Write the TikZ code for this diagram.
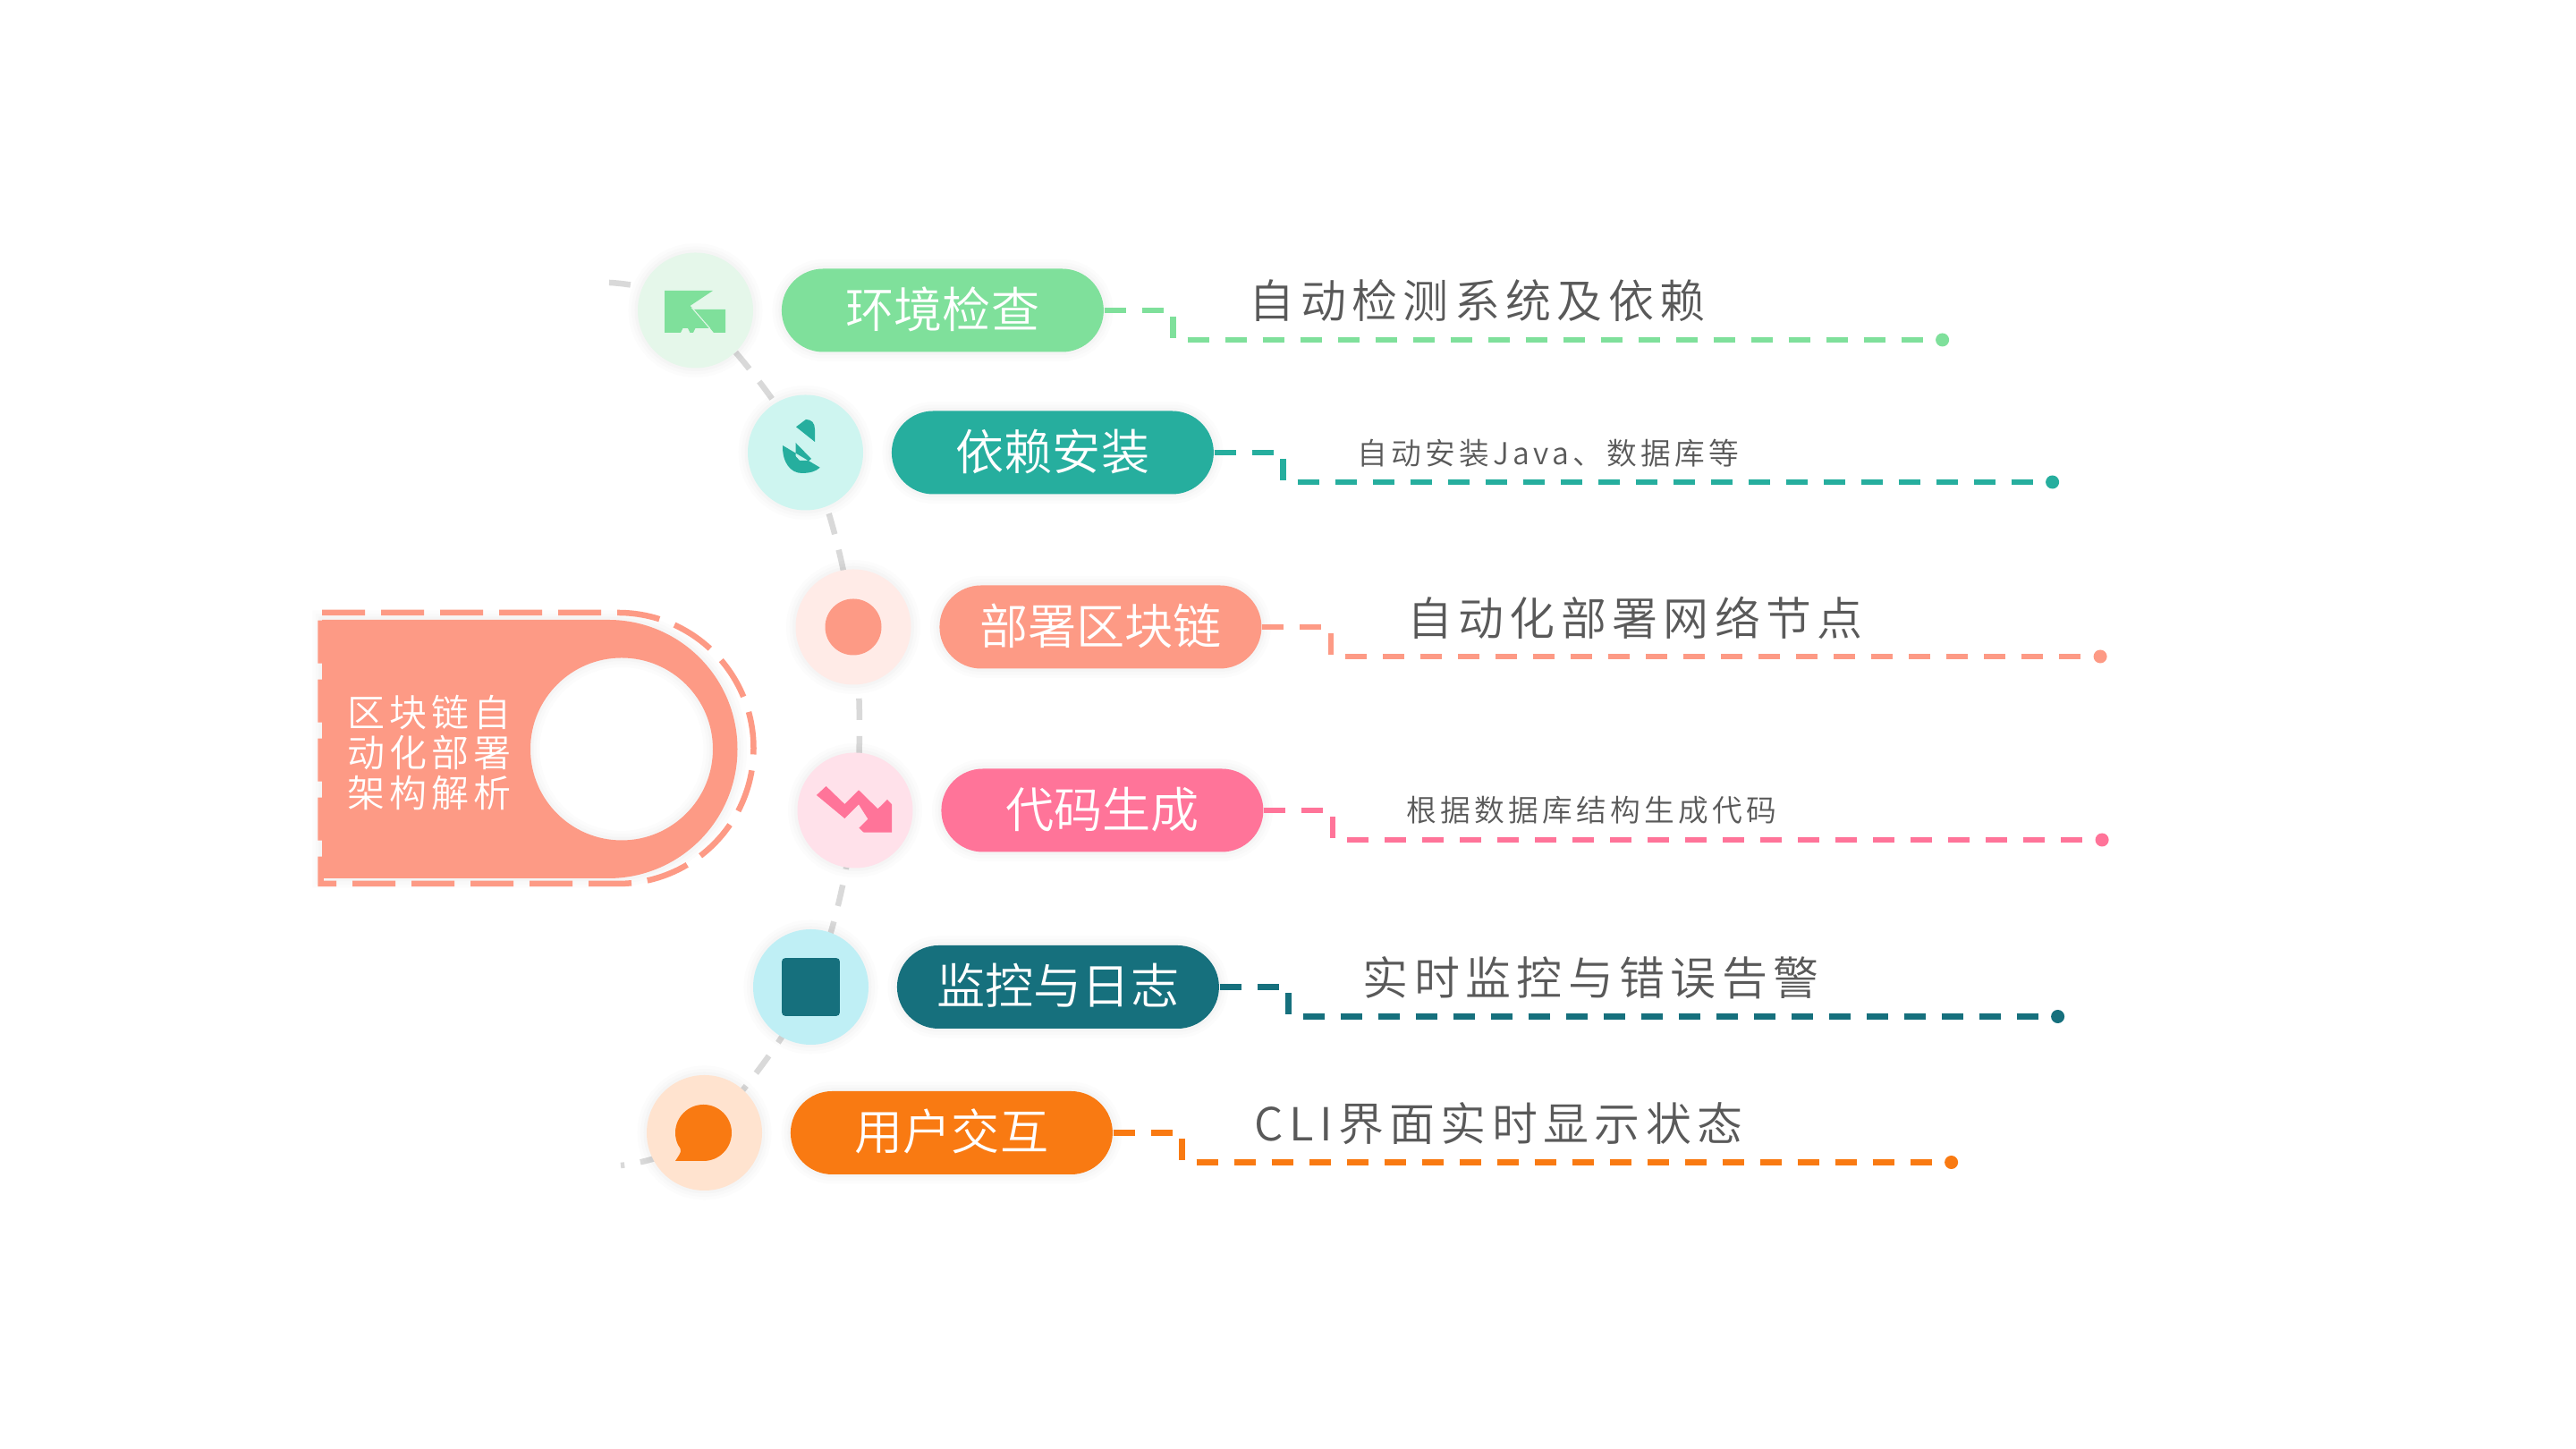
\documentclass[tikz,border=0pt]{standalone}
\usepackage{fontspec}
\setmainfont{Noto Sans CJK SC DemiLight}
\newfontfamily\spacedfont[LetterSpace=12.5]{Noto Sans CJK SC DemiLight}
\usetikzlibrary{arrows.meta,positioning,calc,backgrounds}
\definecolor{Mint}{HTML}{7FE09B}
\definecolor{MintSoft}{HTML}{E5F7EA}
\definecolor{Teal}{HTML}{26AE9E}
\definecolor{TealSoft}{HTML}{CEF5F0}
\definecolor{Salmon}{HTML}{FD9A85}
\definecolor{SalmonSoft}{HTML}{FFEBE7}
\definecolor{Rose}{HTML}{FF7499}
\definecolor{RoseSoft}{HTML}{FFE1EA}
\definecolor{Deep}{HTML}{16707D}
\definecolor{DeepSoft}{HTML}{BFEFF5}
\definecolor{Amber}{HTML}{F97A12}
\definecolor{AmberSoft}{HTML}{FFE3CF}
\definecolor{Ink}{HTML}{595959}
\definecolor{Spine}{HTML}{D9D9D9}
\tikzset{
  softshadow/.style={preaction={draw=black,opacity=0.012,line width=6pt},preaction={draw=black,opacity=0.012,line width=4pt},preaction={draw=black,opacity=0.015,line width=2pt}},
  iconball/.style={circle,fill=#1,minimum size=1.29cm,inner sep=0pt,softshadow},
  pillbox/.style={fill=#1,rounded corners=0.465cm,minimum width=3.6cm,minimum height=0.93cm,inner sep=0pt,text=white,text height=0.46cm,text depth=0.07cm,font=\fontsize{15.4}{18}\selectfont,softshadow},
  leader/.style={draw=#1,line width=1.85pt,dash pattern=on 0.24cm off 0.18cm},
  enddot/.style={circle,fill=#1,minimum size=0.15cm,inner sep=0pt},
  bigtext/.style={text=Ink,inner sep=0pt,font=\spacedfont\fontsize{14.5}{17}\selectfont},
  smalltext/.style={text=Ink,inner sep=0pt,font=\spacedfont\fontsize{9.6}{11}\selectfont}
}
\begin{document}
\begin{tikzpicture}
  \useasboundingbox (0,0) rectangle (28.8,16.2);
  % left panel
  \fill[Salmon,even odd rule,softshadow] (3.60,9.27) -- (6.80,9.27) arc (90:-90:1.445) -- (3.60,6.38) -- cycle (6.95,7.825) circle (1.02);
  \draw[Salmon,line width=1.85pt,dash pattern=on 0.48cm off 0.18cm] (3.60,9.35) -- (6.91,9.35) arc (90:-90:1.515) -- (3.585,6.32) -- (3.585,9.27);
  \node[white,align=left,inner sep=0pt,font=\spacedfont\fontsize{11.95}{12.8}\selectfont] (panelText) at (4.80,7.78) {区块链自\\动化部署\\架构解析};

  \node[iconball=MintSoft] (iconA) at (7.775,12.73) {};
  \node[iconball=TealSoft] (iconB) at (9.005,11.14) {};
  \node[iconball=SalmonSoft] (iconC) at (9.54,9.19) {};
  \node[iconball=RoseSoft] (iconD) at (9.56,7.14) {};
  \node[iconball=DeepSoft] (iconE) at (9.065,5.165) {};
  \node[iconball=AmberSoft] (iconF) at (7.875,3.535) {};

  \coordinate (spineTop) at (6.81,13.04);
  \coordinate (spineEnd) at (6.94,3.17);
  \begin{pgfonlayer}{background}
    \fill[white] (0,0) rectangle (28.8,16.2);
    \draw[Spine,line width=1.85pt,dash pattern=on 0.24cm off 0.18cm] plot[smooth,tension=0.55] coordinates {(spineTop) (iconA.center) (iconB.center) (iconC.center) (iconD.center) (iconE.center) (iconF.center) (spineEnd)};
  \end{pgfonlayer}

  % icons
  \fill[Mint,shift={(iconA.center)}] (-.345,.22) -- (.195,.22) -- (-.06,.05) -- (-.015,.01) -- (.335,.01) -- (.335,-.25) -- (.205,-.25) -- (.165,-.20) -- (0,-.20) -- (-.025,-.25) -- (-.06,-.25) -- (-.085,-.20) -- (-.14,-.20) -- (-.165,-.25) -- (-.345,-.25) -- cycle;
  \draw[MintSoft,line width=0.3pt,shift={(iconA.center)}] (-.04,.03) -- (.16,-.2);
  \fill[Teal,shift={(iconB.center)}] (-.105,.287) -- (.005,.37) .. controls (.07,.37) and (.105,.33) .. (.105,.26) -- (.105,.12) -- cycle;
  \fill[Teal,even odd rule,shift={(iconB.center)}] (-.255,.08) .. controls (-.26,-.12) and (-.16,-.23) .. (-.04,-.23) .. controls (.05,-.23) and (.12,-.21) .. (.162,-.167) -- cycle (-.11,.11) -- (.065,-.07) -- (.04,-.09) -- (-.065,-.09) -- (-.11,-.04) -- cycle;
  \fill[Salmon] (iconC.center) circle (0.315);
  \fill[Rose,shift={(iconD.center)}] (-.324,.27) -- (-.117,.07) -- (.04,.227) -- (.254,.017) -- (.36,.12) -- (.41,.067) -- (.41,-.247) -- (.097,-.247) -- (.044,-.197) -- (.144,-.097) -- (.04,.067) -- (-.117,-.09) -- (-.431,.17) -- cycle;
  \fill[Deep,rounded corners=1pt,shift={(iconE.center)}] (-.323,-.323) rectangle (.323,.323);
  \fill[Amber,shift={(iconF.center)}] (-.325,-.315) -- (-.01,-.315) arc (-90:206:.315) .. controls (-.25,-.2) .. (-.325,-.315) -- cycle;

  % rows
  \node[pillbox=Mint,right=0.305cm of iconA] (pillA) {环境检查};
  \node[pillbox=Teal,right=0.305cm of iconB] (pillB) {依赖安装};
  \node[pillbox=Salmon,right=0.305cm of iconC] (pillC) {部署区块链};
  \node[pillbox=Rose,right=0.305cm of iconD] (pillD) {代码生成};
  \node[pillbox=Deep,right=0.305cm of iconE] (pillE) {监控与日志};
  \node[pillbox=Amber,right=0.305cm of iconF] (pillF) {用户交互};

  \node[bigtext] (noteA) at ($(pillA.east)+(4.17,0.11)$) {自动检测系统及依赖};
  \node[smalltext] (noteB) at ($(pillB.east)+(3.73,-0.01)$) {自动安装Java、数据库等};
  \node[bigtext] (noteC) at ($(pillC.east)+(4.17,0.10)$) {自动化部署网络节点};
  \node[smalltext] (noteD) at ($(pillD.east)+(3.66,0)$) {根据数据库结构生成代码};
  \node[bigtext] (noteE) at ($(pillE.east)+(4.15,0.10)$) {实时监控与错误告警};
  \node[bigtext] (noteF) at ($(pillF.east)+(4.31,0.10)$) {CLI界面实时显示状态};

  \node[enddot=Mint] (endA) at ($(pillA.east)+(9.37,-0.33)$) {};
  \node[enddot=Teal] (endB) at ($(pillB.east)+(9.37,-0.33)$) {};
  \node[enddot=Salmon] (endC) at ($(pillC.east)+(9.37,-0.33)$) {};
  \node[enddot=Rose] (endD) at ($(pillD.east)+(9.37,-0.33)$) {};
  \node[enddot=Deep] (endE) at ($(pillE.east)+(9.37,-0.33)$) {};
  \node[enddot=Amber] (endF) at ($(pillF.east)+(9.37,-0.33)$) {};

  \draw[leader=Mint] (pillA.east) -- ++(0.77,0) |- (endA);
  \draw[leader=Teal] (pillB.east) -- ++(0.77,0) |- (endB);
  \draw[leader=Salmon] (pillC.east) -- ++(0.77,0) |- (endC);
  \draw[leader=Rose] (pillD.east) -- ++(0.77,0) |- (endD);
  \draw[leader=Deep] (pillE.east) -- ++(0.77,0) |- (endE);
  \draw[leader=Amber] (pillF.east) -- ++(0.77,0) |- (endF);
\end{tikzpicture}
\end{document}
